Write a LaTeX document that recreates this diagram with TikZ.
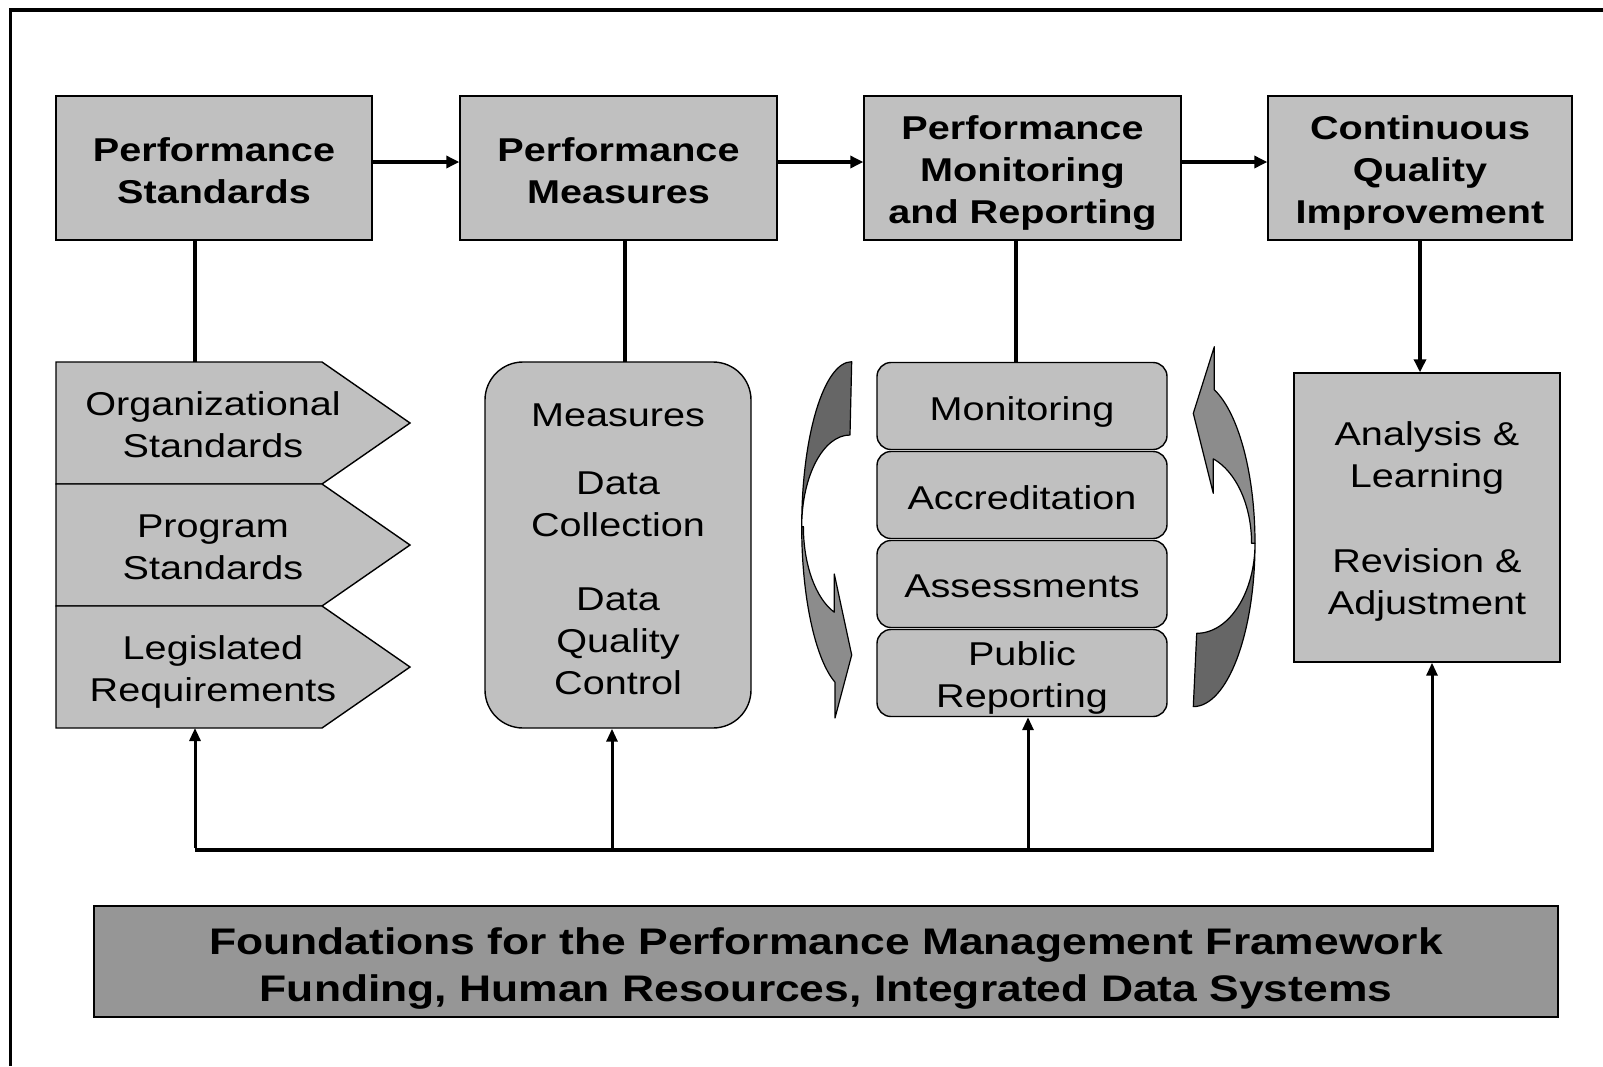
\documentclass[tikz,border=0pt]{standalone}
\usepackage{fontspec}
\setmainfont{Liberation Sans}[FakeStretch=1.2]
\usetikzlibrary{arrows.meta}
\definecolor{boxgray}{HTML}{C0C0C0}
\definecolor{fndgray}{HTML}{969696}
\definecolor{cadark}{HTML}{666666}
\definecolor{calight}{HTML}{8C8C8C}
\begin{document}
\begin{tikzpicture}[x=1pt,y=-1pt,
  box/.style={draw=black, line width=1.4pt, fill=boxgray, inner sep=0pt},
  ttl/.style={font=\bfseries\fontsize{33}{42}\selectfont, align=center, inner sep=0pt},
  txt/.style={font=\fontsize{33}{42}\selectfont, align=center, inner sep=0pt},
  conn/.style={line width=3.5pt},
  toparr/.style={line width=3.5pt, -{Triangle[length=13pt,width=12pt]}},
  uparr/.style={line width=3pt, -{Triangle[length=13pt,width=11pt]}},
  bus/.style={line width=4.5pt},
  chev/.style={draw=black, line width=1.4pt, fill=boxgray, line join=miter},
  ca/.style={draw=black, line width=1.2pt, line join=round}
]
\useasboundingbox (0,0) rectangle (1603,1066);
\fill[white] (0,0) rectangle (1603,1066);
% frame
\draw[line width=4pt] (9,9.5) -- (1603,9.5);
\draw[line width=3pt] (10.5,8) -- (10.5,1066);

% top row
\node[box, minimum width=316pt, minimum height=144pt] (ps) at (214,168) {};
\node[box, minimum width=317pt, minimum height=144pt] (pm) at (618.5,168) {};
\node[box, minimum width=317pt, minimum height=144pt] (pmr) at (1022.5,168) {};
\node[box, minimum width=304pt, minimum height=144pt] (cqi) at (1420,168) {};
\node[ttl] (psT) at (214,171) {Performance\\Standards};
\node[ttl] (pmT) at (618.5,171) {Performance\\Measures};
\node[ttl] (pmrT) at (1022.5,173) {Performance\\Monitoring\\and Reporting};
\node[ttl] (cqiT) at (1420,173) {Continuous\\Quality\\Improvement};

\draw[toparr] ([yshift=6pt]ps.east) -- ([yshift=6pt]pm.west);
\draw[toparr] ([yshift=6pt]pm.east) -- ([yshift=6pt]pmr.west);
\draw[toparr] ([yshift=6pt]pmr.east) -- ([yshift=6pt]cqi.west);

% chevrons
\draw[chev] (56,362) -- (322,362) -- (410,423) -- (322,484) -- (56,484) -- cycle;
\draw[chev] (56,484) -- (322,484) -- (410,545) -- (322,606) -- (56,606) -- cycle;
\draw[chev] (56,606) -- (322,606) -- (410,667) -- (322,728) -- (56,728) -- cycle;
\node[txt] (org) at (213,425) {Organizational\\Standards};
\node[txt] (prog) at (213,547) {Program\\Standards};
\node[txt] (leg) at (213,672) {Legislated\\Requirements};
\coordinate (orgtop) at (195,362);
\coordinate (chevbot) at (195,728);
\draw[conn] (ps.south -| orgtop) -- (orgtop);

% measures box
\node[box, rounded corners=38pt, minimum width=266pt, minimum height=366pt] (dq) at (618,545) {};
\node[txt] (dqt) at (618,549) {Measures\\[26pt]Data\\Collection\\[32pt]Data\\Quality\\Control};
\coordinate (dqtop) at (625,362);
\draw[conn] (pm.south -| dqtop) -- (dqtop);

% stack
\node[box, rounded corners=14pt, minimum width=290pt, minimum height=87pt] (mon) at (1022,406) {};
\node[box, rounded corners=14pt, minimum width=290pt, minimum height=87pt] (acc) at (1022,495) {};
\node[box, rounded corners=14pt, minimum width=290pt, minimum height=87pt] (ass) at (1022,584) {};
\node[box, rounded corners=14pt, minimum width=290pt, minimum height=87pt] (pub) at (1022,673) {};
\node[txt] (monT) at (1022,412) {Monitoring};
\node[txt] (accT) at (1022,498) {Accreditation};
\node[txt] (assT) at (1022,586) {Assessments};
\node[txt] (pubT) at (1022,678) {Public\\Reporting};
\coordinate (montop) at (1016,362.5);
\draw[conn] (pmr.south -| montop) -- (montop);

% analysis box
\node[box, minimum width=266pt, minimum height=289pt] (ana) at (1427,517.5) {};
\node[txt] (anaT) at (1427,521) {Analysis \&\\Learning\\[43pt]Revision \&\\Adjustment};
\draw[toparr] (cqi.south) -- (cqi.south |- ana.north);

% curved arrows
\path[ca, fill=cadark] (851.7,361.7) arc[start angle=270, end angle=180, x radius=50, y radius=165]
   arc[start angle=180, end angle=270, x radius=48.3, y radius=91.7] -- cycle;
\path[ca, fill=calight] (801.7,526.7) arc[start angle=180, end angle=109.5, x radius=50, y radius=165]
   -- (835,718) -- (851.7,655) -- (834.3,574) -- (834.3,612.2)
   arc[start angle=111.1, end angle=180, x radius=48.3, y radius=91.7] -- cycle;

\path[ca, fill=cadark] (1193.3,706.6) arc[start angle=90, end angle=0, x radius=61.7, y radius=163.3]
   arc[start angle=0, end angle=90, x radius=58.3, y radius=90] -- cycle;
\path[ca, fill=calight] (1255,543.3) arc[start angle=0, end angle=-70.1, x radius=61.7, y radius=163.3]
   -- (1214.3,346.7) -- (1193.3,413.3) -- (1213.3,493.3) -- (1213.3,458.8)
   arc[start angle=-69.9, end angle=0, x radius=58.3, y radius=90] -- cycle;

% foundation box
\node[box, fill=fndgray, minimum width=1464pt, minimum height=111pt] (fnd) at (826,961.5) {};
\node[ttl, font=\bfseries\fontsize{37}{47}\selectfont] (fndT) at (826,968) {Foundations for the Performance Management Framework\\Funding, Human Resources, Integrated Data Systems};

% bus
\coordinate (b1) at (195,850);
\coordinate (b2) at (612,850);
\coordinate (b3) at (1028,850);
\coordinate (b4) at (1432,850);
\draw[bus] (b1) -- (b4);
\draw[uparr] ([yshift=2pt]b1) -- (chevbot);
\draw[uparr] ([yshift=2pt]b2) -- (b2 |- dq.south);
\draw[uparr] ([yshift=2pt]b3) -- (b3 |- pub.south);
\draw[uparr] ([yshift=-2pt]b4) -- (b4 |- ana.south);
\end{tikzpicture}
\end{document}
